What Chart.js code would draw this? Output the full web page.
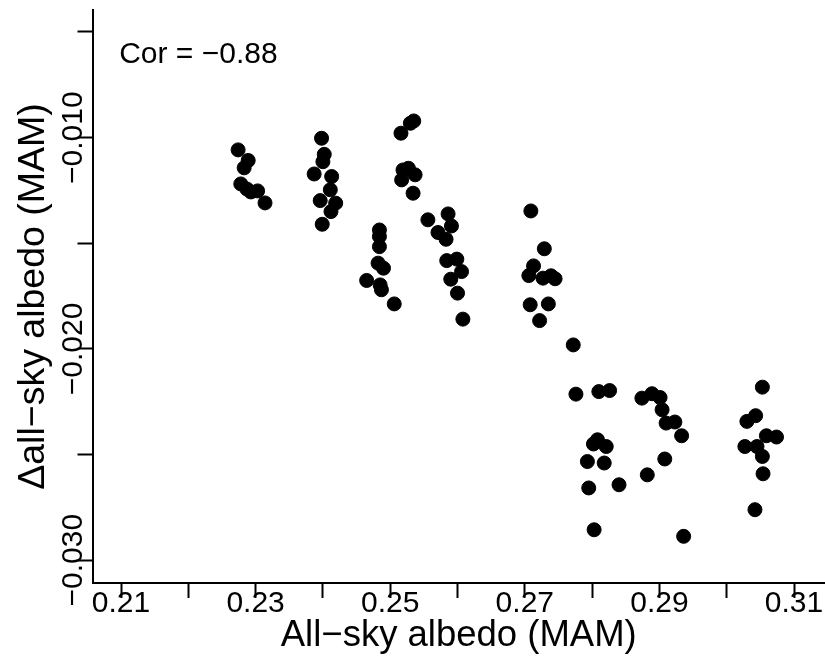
<!DOCTYPE html>
<html>
<head>
<meta charset="utf-8">
<script src="https://cdn.jsdelivr.net/npm/chart.js@4"></script>
<style>
  html, body { margin: 0; padding: 0; background: #fff; }
  #wrap { width: 825px; height: 656px; position: relative; }
</style>
</head>
<body>
<div id="wrap"><canvas id="chart"></canvas></div>
<script>
// all-sky albedo (MAM) per point
const albedo = [
    0.2274, 0.2289, 0.2283, 0.2278, 0.2287, 0.2293, 0.2303, 0.2314,
    0.2398, 0.2402, 0.2400, 0.2387, 0.2413, 0.2411, 0.2396, 0.2419, 0.2412, 0.2399,
    0.2516, 0.2530, 0.2535, 0.2519, 0.2527, 0.2537, 0.2517, 0.2534,
    0.2484, 0.2484, 0.2484, 0.2482, 0.2490, 0.2465, 0.2485, 0.2487, 0.2506,
    0.2556, 0.2586, 0.2591, 0.2571, 0.2583, 0.2584, 0.2599, 0.2606, 0.2590, 0.2600, 0.2608,
    0.2709, 0.2729, 0.2713, 0.2706, 0.2727, 0.2739, 0.2745, 0.2708, 0.2735, 0.2722,
    0.2772, 0.2776, 0.2810, 0.2826, 0.2808, 0.2802, 0.2821, 0.2793, 0.2818, 0.2795, 0.2840, 0.2803,
    0.2874, 0.2889, 0.2901, 0.2904, 0.2910, 0.2923, 0.2933, 0.2908, 0.2882, 0.2936,
    0.3053, 0.3043, 0.3030, 0.3059, 0.3074, 0.3027, 0.3045, 0.3053, 0.3054, 0.3042
];
// delta all-sky albedo (MAM), same order
const deltaAlbedo = [
    -0.01058, -0.01108, -0.01143, -0.01219, -0.01243, -0.01257, -0.01252, -0.01309,
    -0.01003, -0.01079, -0.01114, -0.01172, -0.01184, -0.01247, -0.01298, -0.01310, -0.01350, -0.01410,
    -0.00979, -0.00932, -0.00921, -0.01153, -0.01145, -0.01176, -0.01200, -0.01263,
    -0.01437, -0.01468, -0.01516, -0.01594, -0.01618, -0.01676, -0.01697, -0.01720, -0.01787,
    -0.01389, -0.01361, -0.01418, -0.01449, -0.01481, -0.01582, -0.01575, -0.01634, -0.01670, -0.01736, -0.01859,
    -0.01347, -0.01526, -0.01607, -0.01653, -0.01665, -0.01654, -0.01668, -0.01791, -0.01787, -0.01866,
    -0.01981, -0.02214, -0.02202, -0.02197, -0.02430, -0.02450, -0.02462, -0.02533, -0.02540, -0.02658, -0.02643, -0.02856,
    -0.02233, -0.02212, -0.02230, -0.02288, -0.02351, -0.02346, -0.02411, -0.02521, -0.02596, -0.02887,
    -0.02181, -0.02316, -0.02343, -0.02411, -0.02417, -0.02462, -0.02462, -0.02509, -0.02591, -0.02761
];

const xTicks = [0.21, 0.22, 0.23, 0.24, 0.25, 0.26, 0.27, 0.28, 0.29, 0.30, 0.31];
const xTickLabels = ['0.21', '', '0.23', '', '0.25', '', '0.27', '', '0.29', '', '0.31'];
const yTicks = [-0.030, -0.025, -0.020, -0.015, -0.010, -0.005];
const yTickLabels = ['\u22120.030', '', '\u22120.020', '', '\u22120.010', ''];

const xRange = [0.205765, 0.314606];
const yRange = [-0.031079, -0.003959];

const corText = 'Cor = \u22120.88';
const xTitle = 'All\u2212sky albedo (MAM)';
const yTitle = '\u0394all\u2212sky albedo (MAM)';

Chart.defaults.font.family = '"Liberation Sans", Arial, sans-serif';
Chart.defaults.color = '#000';

const points = albedo.map((x, i) => ({ x: x, y: deltaAlbedo[i] }));

const corLabel = {
    id: 'corLabel',
    afterDraw(chart) {
        const ctx = chart.ctx;
        const area = chart.chartArea;
        ctx.save();
        ctx.font = '30px "Liberation Sans", Arial, sans-serif';
        ctx.fillStyle = '#000';
        ctx.textBaseline = 'alphabetic';
        ctx.fillText(corText, area.left + 26.7, area.top + 53.3);
        ctx.restore();
    }
};

new Chart(document.getElementById('chart'), {
    type: 'scatter',
    data: {
        datasets: [{
            data: points,
            pointRadius: 7,
            pointHoverRadius: 7,
            borderWidth: 1,
            borderColor: '#000',
            backgroundColor: '#000'
        }]
    },
    options: {
        responsive: true,
        maintainAspectRatio: false,
        animation: false,
        layout: { autoPadding: false, padding: { top: 10, left: 0, right: 0, bottom: 0 } },
        plugins: {
            legend: { display: false },
            tooltip: { enabled: false }
        },
        scales: {
            x: {
                type: 'linear',
                min: xRange[0],
                max: xRange[1],
                afterBuildTicks: (scale) => { scale.ticks = xTicks.map(v => ({ value: v })); },
                afterFit: (scale) => {
                    scale.height = 73;
                    scale.paddingLeft = 0;
                    scale.paddingRight = 0;
                },
                ticks: {
                    autoSkip: false,
                    maxRotation: 0,
                    padding: -12.4,
                    font: { size: 30 },
                    callback: (value, index) => xTickLabels[index]
                },
                grid: {
                    drawOnChartArea: false,
                    drawTicks: true,
                    tickLength: 15,
                    tickWidth: 2,
                    tickColor: '#000'
                },
                border: { display: true, color: '#000', width: 2 },
                title: {
                    display: true,
                    text: xTitle,
                    font: { size: 36.5 },
                    padding: { top: 0, bottom: -1.9 }
                }
            },
            y: {
                type: 'linear',
                min: yRange[0],
                max: yRange[1],
                afterBuildTicks: (scale) => { scale.ticks = yTicks.map(v => ({ value: v })); },
                afterFit: (scale) => {
                    scale.width = 92.5;
                    scale.paddingTop = 0;
                    scale.paddingBottom = 0;
                },
                ticks: {
                    autoSkip: false,
                    minRotation: 90,
                    maxRotation: 90,
                    crossAlign: 'center',
                    padding: -42.8,
                    font: { size: 30 },
                    callback: (value, index) => yTickLabels[index]
                },
                grid: {
                    drawOnChartArea: false,
                    drawTicks: true,
                    tickLength: 15,
                    tickWidth: 2,
                    tickColor: '#000'
                },
                border: { display: true, color: '#000', width: 2 },
                title: {
                    display: true,
                    text: yTitle,
                    font: { size: 37.5 },
                    padding: { top: 11, bottom: 0 }
                }
            }
        }
    },
    plugins: [corLabel]
});
</script>
</body>
</html>
